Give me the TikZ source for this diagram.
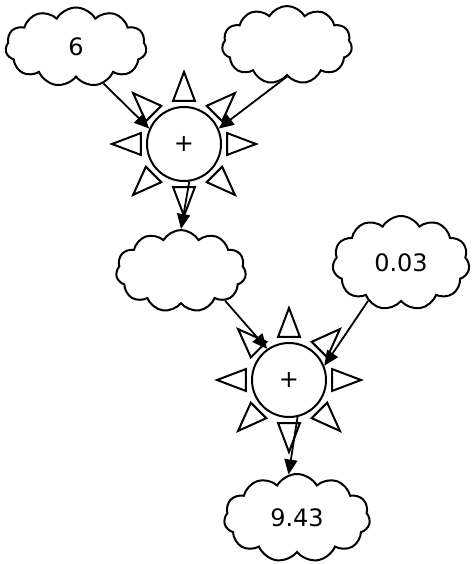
\documentclass[tikz,border=0pt]{standalone}
\usepackage{fontspec}
\setmainfont{DejaVu Sans}
\usetikzlibrary{shapes.symbols,arrows.meta}
\begin{document}
\begin{tikzpicture}[x=1pt,y=-1pt,
  cloudbox/.style={cloud, cloud puffs=11, cloud puff arc=120, draw, line width=2pt, inner sep=0pt, font=\fontsize{24}{28}\selectfont},
  sunbox/.style={circle, draw, line width=2pt, minimum size=74pt, inner sep=0pt, font=\fontsize{24}{28}\selectfont},
  raytri/.style={draw, line width=2pt, line join=miter},
  arr/.style={-{Triangle[length=15pt,width=13pt]}, line width=1.8pt}]
\useasboundingbox (0,0) rectangle (471,564);
\node[cloudbox, minimum width=141pt, minimum height=79pt] (c1) at (76,47) {6};
\node[cloudbox, minimum width=130pt, minimum height=78pt] (c2) at (287,45) {};
\node[cloudbox, minimum width=130pt, minimum height=82pt] (c3) at (181,271) {};
\node[cloudbox, minimum width=137pt, minimum height=94pt] (c4) at (401,263) {0.03};
\node[cloudbox, minimum width=146pt, minimum height=88pt] (c5) at (297,518) {9.43};
\node[sunbox] (s1) at (184,144) {+};
\node[sunbox] (s2) at (289,380) {+};
\foreach \s in {s1,s2}{
  \foreach \a in {0,45,...,315}{
    \draw[raytri] ([shift={(\a:72pt)}]\s.center) -- ([shift={(\a+14.3:44.4pt)}]\s.center) -- ([shift={(\a-14.3:44.4pt)}]\s.center) -- cycle;
  }
}
\draw[arr] (c1.-53) -- (s1.156);
\draw[arr] (c2.south) -- (s1.24);
\draw[arr] (s1.-82) -- (c3.north);
\draw[arr] (c3.-34) -- (s2.125);
\draw[arr] (c4.229) -- (s2.22);
\draw[arr] (s2.-77) -- (c5.101);
\end{tikzpicture}
\end{document}
